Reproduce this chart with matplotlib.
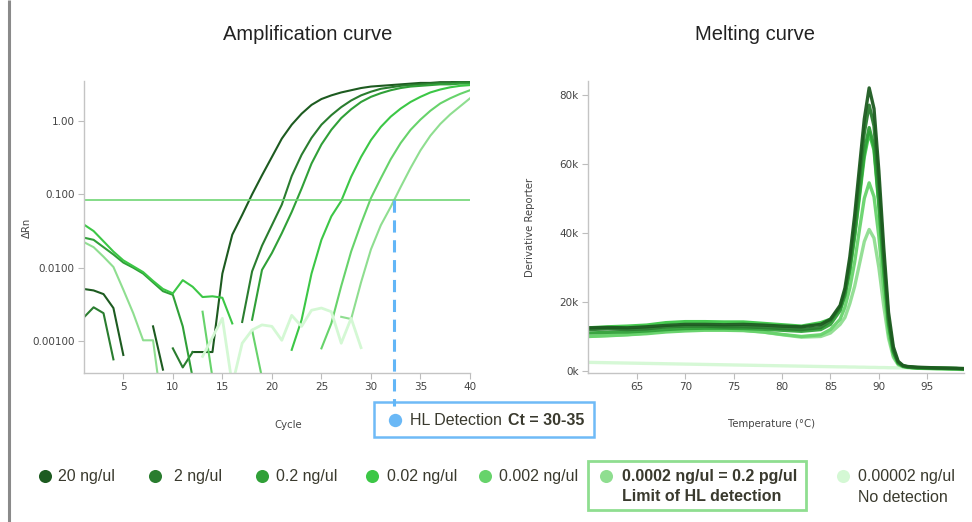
import numpy as np
import matplotlib
matplotlib.use("Agg")
import matplotlib.pyplot as plt
from matplotlib.patches import Rectangle

nan = np.nan
W, H = 972, 522

# ---------------- data ----------------
series_labels = ["20 ng/ul", "2 ng/ul", "0.2 ng/ul", "0.02 ng/ul", "0.002 ng/ul",
                 "0.0002 ng/ul = 0.2 pg/ul", "0.00002 ng/ul"]
series_colors = ["#1d5b20", "#2a7d2f", "#30a038", "#3cc746", "#67d36b", "#8fde90", "#d4f8d4"]

cycles = list(range(1, 41))
# log10(ΔRn) per cycle, nan where not drawn
amp_log_20ng = [-2.29, -2.31, -2.36, -2.55, -3.19, nan, nan, -2.80, -3.39, nan,
                nan, -3.15, -3.15, -3.15, -2.08, -1.55, -1.28, -1.00, -0.74, -0.49,
                -0.24, -0.05, 0.10, 0.22, 0.30, 0.35, 0.39, 0.42, 0.45, 0.47,
                0.48, 0.49, 0.50, 0.51, 0.52, 0.52, 0.53, 0.53, 0.54, 0.54]
amp_log_2ng = [-2.68, -2.54, -2.62, -3.25, nan, nan, nan, nan, nan, -3.10,
               -3.36, -3.15, nan, nan, nan, nan, -2.74, -2.05, -1.70, -1.42,
               -1.14, -0.75, -0.46, -0.23, -0.05, 0.08, 0.19, 0.28, 0.35, 0.40,
               0.44, 0.46, 0.48, 0.49, 0.50, 0.51, 0.52, 0.52, 0.53, 0.53]
amp_log_02ng = [-1.59, -1.62, -1.72, -1.82, -1.93, -2.00, -2.08, -2.20, -2.32, -2.37,
                -2.80, -3.50, nan, nan, nan, nan, nan, -2.71, -2.03, -1.80,
                -1.53, -1.24, -0.92, -0.58, -0.32, -0.12, 0.04, 0.16, 0.26, 0.33,
                0.38, 0.42, 0.45, 0.47, 0.48, 0.49, 0.50, 0.50, 0.51, 0.51]
amp_log_002ng = [-1.41, -1.50, -1.64, -1.78, -1.90, -1.98, -2.06, -2.18, -2.29, -2.35,
                 -2.17, -2.26, -2.40, -2.39, -2.41, -2.76, nan, nan, nan, nan,
                 nan, -3.12, -2.71, -2.08, -1.62, -1.30, -1.09, -0.76, -0.49, -0.26,
                 -0.08, 0.06, 0.17, 0.26, 0.33, 0.39, 0.43, 0.46, 0.48, 0.49]
amp_log_0002ng = [nan, nan, nan, nan, nan, nan, nan, nan, nan, nan,
                  nan, nan, -2.60, -3.50, nan, nan, nan, -2.85, -3.50, nan,
                  nan, nan, nan, nan, -3.10, -2.76, -2.25, -1.78, -1.40, -1.05,
                  -0.78, -0.52, -0.30, -0.12, 0.02, 0.14, 0.24, 0.31, 0.37, 0.42]
amp_log_00002ng = [-1.65, -1.72, -1.85, -1.99, -2.30, -2.62, -2.99, -2.99, -4.00, nan,
                   nan, nan, nan, nan, nan, nan, nan, nan, nan, nan,
                   nan, nan, nan, nan, nan, nan, -2.67, -2.70, -2.20, -1.75,
                   -1.42, -1.17, -0.90, -0.64, -0.40, -0.20, -0.04, 0.09, 0.20, 0.31]
amp_log_000002ng = [nan, nan, nan, nan, nan, nan, nan, nan, nan, nan,
                    nan, nan, -3.21, -2.95, -2.69, -3.60, -3.03, -2.85, -2.78, -2.80,
                    -2.99, -2.65, -2.80, -2.58, -2.55, -2.60, -3.03, -2.69, -3.09, nan,
                    nan, nan, nan, nan, nan, nan, nan, nan, nan, nan]
amp_series = [amp_log_20ng, amp_log_2ng, amp_log_02ng, amp_log_002ng,
              amp_log_0002ng, amp_log_00002ng, amp_log_000002ng]

threshold = 0.083
hl_ct = 32.3

amp_xticks = [5, 10, 15, 20, 25, 30, 35, 40]
amp_yticks = [0.001, 0.01, 0.1, 1.0]
amp_yticklabels = ["0.00100", "0.0100", "0.100", "1.00"]

temps = [60, 62, 64, 66, 68, 70, 72, 74, 76, 78, 80, 82, 84, 85, 86,
         86.5, 87, 87.5, 88, 88.5, 89, 89.5, 90, 90.5, 91, 91.5, 92, 92.5, 93,
         94, 96, 98, 99]
# derivative reporter in thousands
melt_20ng = [12.5, 12.6, 12.5, 12.8, 13.2, 13.5, 13.5, 13.4, 13.5, 13.3, 13.0, 12.8, 13.5, 15.0, 19.0,
             24.0, 33.0, 45.0, 59.0, 73.0, 82.0, 76.0, 58.0, 36.0, 17.0, 7.0, 2.8, 1.6, 1.3,
             1.1, 0.9, 0.8, 0.7]
melt_2ng = [12.0, 12.2, 12.0, 12.2, 12.8, 13.0, 13.0, 12.8, 12.8, 12.6, 12.3, 12.0, 12.6, 14.5, 18.5,
            23.0, 31.0, 42.0, 56.0, 69.0, 77.0, 71.0, 54.0, 33.0, 15.0, 6.0, 2.5, 1.5, 1.2,
            1.0, 0.8, 0.7, 0.6]
melt_02ng = [11.0, 11.2, 11.3, 11.6, 12.0, 12.3, 12.4, 12.4, 12.3, 12.1, 11.8, 11.5, 12.0, 13.5, 17.5,
             22.0, 29.5, 39.5, 51.5, 63.5, 70.5, 65.0, 49.0, 30.0, 14.0, 5.5, 2.3, 1.4, 1.1,
             0.9, 0.8, 0.7, 0.6]
melt_002ng = [12.5, 12.8, 13.0, 13.3, 14.0, 14.3, 14.3, 14.2, 14.2, 13.8, 13.4, 13.0, 14.0, 15.0, 18.0,
              22.0, 29.0, 39.0, 50.5, 62.0, 69.0, 64.0, 48.0, 29.0, 13.5, 5.5, 2.3, 1.4, 1.1,
              0.9, 0.8, 0.7, 0.6]
melt_0002ng = [10.0, 10.2, 10.5, 10.8, 11.3, 11.6, 11.8, 11.8, 11.7, 11.3, 10.6, 10.0, 10.5, 12.0, 15.0,
               18.5, 24.0, 31.5, 41.0, 50.0, 54.5, 50.5, 39.0, 24.0, 11.0, 4.5, 2.0, 1.3, 1.1,
               0.9, 0.7, 0.6, 0.5]
melt_00002ng = [10.0, 10.3, 10.5, 11.0, 11.5, 11.8, 12.0, 12.0, 11.8, 11.3, 10.5, 9.8, 10.0, 11.0, 13.5,
                15.5, 19.5, 24.5, 31.0, 37.5, 41.0, 38.5, 30.0, 19.0, 9.5, 4.0, 1.8, 1.2, 1.0,
                0.8, 0.6, 0.5, 0.4]
melt_000002ng = [2.5, 2.4, 2.3, 2.2, 2.1, 2.0, 1.9, 1.8, 1.7, 1.6, 1.5, 1.4, 1.3, 1.25, 1.2,
                 1.2, 1.15, 1.15, 1.1, 1.1, 1.05, 1.05, 1.0, 1.0, 0.95, 0.95, 0.9, 0.9, 0.9,
                 0.85, 0.8, 0.7, 0.65]
melt_series = [melt_20ng, melt_2ng, melt_02ng, melt_002ng,
               melt_0002ng, melt_00002ng, melt_000002ng]

melt_xticks = [65, 70, 75, 80, 85, 90, 95]
melt_yticks = [0, 20, 40, 60, 80]
melt_yticklabels = ["0k", "20k", "40k", "60k", "80k"]

# ---------------- figure ----------------
fig = plt.figure(figsize=(W / 100, H / 100), dpi=100)
fig.patch.set_facecolor("white")

def frac(x0, y0, x1, y1):
    return [x0 / W, 1 - y1 / H, (x1 - x0) / W, (y1 - y0) / H]

TXT = "#3a3a2e"
SANS = ["Liberation Sans", "DejaVu Sans"]

ov = fig.add_axes([0, 0, 1, 1])
ov.set_xlim(0, W)
ov.set_ylim(H, 0)
ov.axis("off")
ov.set_zorder(0)

# page border at the left
ov.plot([8.5, 8.5], [0, H], color="#8a8a8a", lw=2.2, solid_capstyle="butt")

def style_axes(ax):
    for s in ("top", "right"):
        ax.spines[s].set_visible(False)
    for s in ("left", "bottom"):
        ax.spines[s].set_color("#c4c4c4")
        ax.spines[s].set_linewidth(1.0)
    ax.tick_params(axis="both", which="major", length=4, width=0.8, color="#bdbdbd",
                   labelsize=7.5, labelcolor="#444444", pad=2.5)
    ax.tick_params(axis="both", which="minor", length=0)
    ax.set_facecolor("none")

# ---------- amplification ----------
ax1 = fig.add_axes(frac(83.7, 80.7, 470, 373.3))
ax1.set_zorder(2)
style_axes(ax1)
ax1.set_yscale("log")
for vals, col in zip(amp_series, series_colors):
    arr = np.array(vals, dtype=float)
    lw = 2.0 if col == "#d4f8d4" else 1.5
    ax1.plot(cycles, 10 ** arr, color=col, lw=lw, solid_joinstyle="round")
ax1.axhline(threshold, color="#6fd574", lw=1.2)
ax1.plot([hl_ct, hl_ct], [threshold, 10 ** -3.88], color="#62b6f7", lw=2.2,
         ls=(0, (4, 2.5)), clip_on=False, zorder=5)
ax1.set_xlim(1, 40)
ax1.set_ylim(10 ** -3.44, 10 ** 0.55)
ax1.set_xticks(amp_xticks)
ax1.set_xticklabels([str(t) for t in amp_xticks])
ax1.set_yticks(amp_yticks)
ax1.set_yticklabels(amp_yticklabels)
ax1.yaxis.set_minor_locator(matplotlib.ticker.NullLocator())

# ---------- melting ----------
ax2 = fig.add_axes(frac(588, 81, 964, 373))
ax2.set_zorder(2)
style_axes(ax2)
for vals, col in reversed(list(zip(melt_series, series_colors))):
    ax2.plot(temps, vals, color=col, lw=2.4, alpha=0.95, solid_joinstyle="round")
ax2.set_xlim(59.95, 98.8)
ax2.set_ylim(-0.58, 84)
ax2.set_xticks(melt_xticks)
ax2.set_xticklabels([str(t) for t in melt_xticks])
ax2.set_yticks(melt_yticks)
ax2.set_yticklabels(melt_yticklabels)

# ---------- titles & labels ----------
ov.text(308, 35, "Amplification curve", ha="center", va="center", fontsize=14.5,
        color="#222222", family=SANS)
ov.text(755, 35, "Melting curve", ha="center", va="center", fontsize=14.5,
        color="#222222", family=SANS)
ov.text(27, 228, "ΔRn", ha="center", va="center", rotation=90, fontsize=7.3, color="#444444")
ov.text(288, 425, "Cycle", ha="center", va="center", fontsize=7.3, color="#444444")
ov.text(530, 227, "Derivative Reporter", ha="center", va="center", rotation=90,
        fontsize=7.3, color="#444444")
ov.text(772, 424, "Temperature (°C)", ha="center", va="center", fontsize=7.3, color="#444444")

# ---------- HL detection box ----------
ov.add_patch(Rectangle((374, 402), 220, 35, fill=False, ec="#6fbaf7", lw=1.8))
ov.plot([395], [420], "o", ms=9.6, color="#6ab8f6", mec="none")
ov.text(410, 420.5, "HL Detection", ha="left", va="center", fontsize=11.5, color=TXT, family=SANS)
ov.text(508, 420.5, "Ct = 30-35", ha="left", va="center", fontsize=11.5, color=TXT,
        family=SANS, fontweight="bold")

# ---------- legend ----------
dot_x = [45, 155, 262, 372, 485, 606, 843]
text_x = [58, 174, 276, 387, 499, 622, 858]
ov.add_patch(Rectangle((588, 461), 218, 49, fill=False, ec="#8fde90", lw=2.0))
for i, (lab, col) in enumerate(zip(series_labels, series_colors)):
    ov.plot([dot_x[i]], [476], "o", ms=9.4, color=col, mec="none")
    if i == 5:
        ov.text(text_x[i], 476, lab, ha="left", va="center", fontsize=11.5, color=TXT,
                family=SANS, fontweight="bold")
        ov.text(text_x[i], 496.5, "Limit of HL detection", ha="left", va="center",
                fontsize=11.5, color=TXT, family=SANS, fontweight="bold")
    elif i == 6:
        ov.text(text_x[i], 476, lab, ha="left", va="center", fontsize=11.5, color=TXT, family=SANS)
        ov.text(text_x[i], 497, "No detection", ha="left", va="center", fontsize=11.5,
                color=TXT, family=SANS)
    else:
        ov.text(text_x[i], 476, lab, ha="left", va="center", fontsize=11.5, color=TXT, family=SANS)

fig.savefig("out.png", dpi=100)
